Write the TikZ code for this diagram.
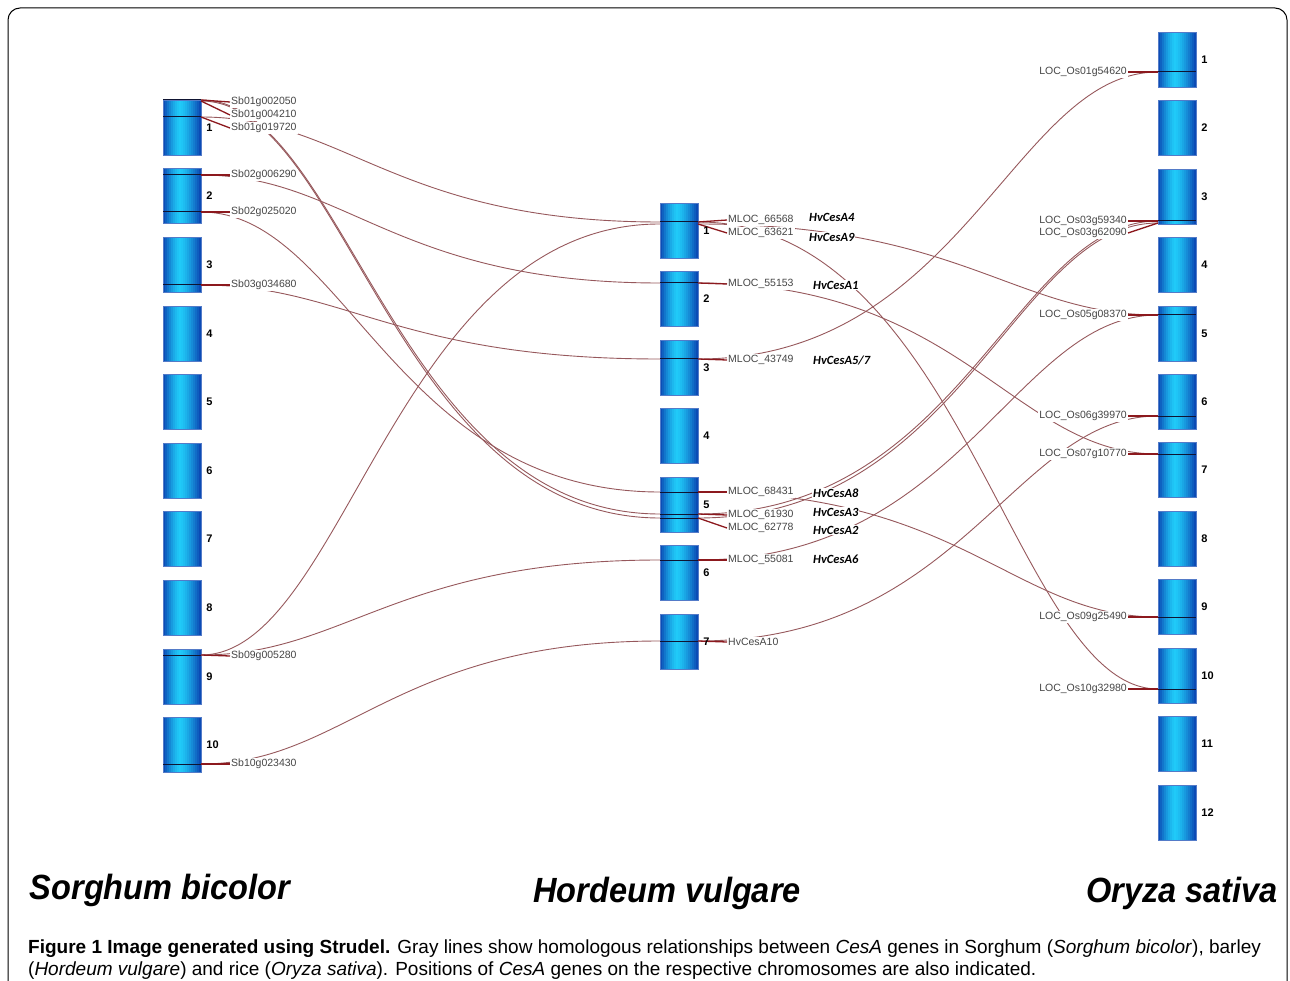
\documentclass[tikz,border=0pt]{standalone}
\usepackage{fontspec}
\setmainfont{Liberation Sans}
\newfontfamily\calibri{Carlito}
\newfontfamily\speciesfont[FakeStretch=0.93]{Liberation Sans}
\usetikzlibrary{positioning}

\definecolor{homcolor}{RGB}{150,88,92}
\definecolor{tickcolor}{RGB}{140,25,30}
\definecolor{chromdark}{RGB}{10,66,176}
\definecolor{chromlight}{RGB}{32,202,248}
\definecolor{bandcolor}{RGB}{15,20,50}
\definecolor{labelgray}{RGB}{70,70,70}

\tikzset{
    chrom/.style={rectangle, draw=chromdark!70!white, line width=0.5pt, inner sep=0pt,
        minimum width=38pt, minimum height=55pt,
        path picture={
            \foreach \k in {0,...,18} {
                \pgfmathsetmacro{\s}{(\k+0.5)/19}
                \pgfmathsetmacro{\pct}{100*(abs(\s-0.45)/(\s<0.45 ? 0.45 : 0.55))^1.4}
                \fill[chromdark!\pct!chromlight] ([xshift=\k*2pt]path picture bounding box.north west)
                    rectangle ([xshift=\k*2pt+2.2pt]path picture bounding box.south west);
            }
        }},
    chromnum/.style={anchor=west, inner sep=0pt, font=\bfseries\fontsize{11}{13}\selectfont},
    homline/.style={draw=homcolor, line width=0.9pt},
    genetick/.style={draw=tickcolor, line width=1.3pt},
    band/.style={draw=bandcolor, line width=1pt},
    genelabel/.style={inner sep=1pt, fill=white, text=labelgray, font=\fontsize{10.5}{12}\selectfont},
    hvname/.style={anchor=west, inner sep=1pt, fill=white, font=\calibri\bfseries\itshape\fontsize{12.5}{14}\selectfont},
    species/.style={font=\speciesfont\bfseries\itshape\fontsize{35}{40}\selectfont}
}

\begin{document}
\begin{tikzpicture}[x=1pt, y=-1pt]
    \useasboundingbox (0,0) rectangle (1290,981);

    % frame
    \draw[line width=1pt, rounded corners=12pt] (8,1010) -- (8,8) -- (1287,8) -- (1287,1010);

    % --- gene positions ---
    % Sorghum (right edge of chromosomes)
    \coordinate (sb1a) at (201,100);
    \coordinate (sb1b) at (201,101);
    \coordinate (sb1c) at (201,117);
    \coordinate (sb2a) at (201,175);
    \coordinate (sb2b) at (201,212);
    \coordinate (sb3) at (201,285);
    \coordinate (sb9) at (201,655);
    \coordinate (sb10) at (201,764);
    % barley (west and east edge)
    \foreach \n/\y in {A4/222, A9/224, A1/283, A57/359, A8/492, A3/514, A2/518, A6/560, A10/641} {
        \coordinate (hvw\n) at (660,\y);
        \coordinate (hve\n) at (698,\y);
    }
    % rice (left edge)
    \coordinate (os01) at (1158,72);
    \coordinate (os03a) at (1158,221);
    \coordinate (os03b) at (1158,223);
    \coordinate (os05) at (1158,315);
    \coordinate (os06) at (1158,416);
    \coordinate (os07) at (1158,454);
    \coordinate (os09) at (1158,617);
    \coordinate (os10) at (1158,689);

    % --- homology lines ---
    \foreach \a/\b in {sb1a/hvwA3, sb1b/hvwA2, sb1c/hvwA4, sb2a/hvwA1, sb2b/hvwA8,
                       sb3/hvwA57, sb9/hvwA9, sb9/hvwA6, sb10/hvwA10} {
        \draw[homline] (\a) .. controls +(144,0) and +(-265,0) .. (\b);
    }
    \foreach \a/\b in {hveA4/os10, hveA9/os05, hveA1/os07, hveA57/os01, hveA3/os03a,
                       hveA2/os03b, hveA8/os09, hveA6/os05, hveA10/os06} {
        \draw[homline] (\a) .. controls +(265,0) and +(-144,0) .. (\b);
    }

    % --- Sorghum bicolor ---
    \foreach \i in {1,...,10} {
        \pgfmathsetmacro{\ctr}{127.5+68.6*(\i-1)}
        \node[chrom] (sbc\i) at (182,\ctr) {};
        \node[chromnum] at ([xshift=5pt]sbc\i.east) {\i};
    }
    \foreach \g in {sb1a, sb1c, sb2a, sb2b, sb3, sb9, sb10} {
        \draw[band] (\g) -- ++(-38,0);
    }
    \foreach \g/\y/\t in {sb1a/102/Sb01g002050, sb1b/115/Sb01g004210, sb1c/128/Sb01g019720,
                          sb2a/175/Sb02g006290, sb2b/212/Sb02g025020, sb3/285/Sb03g034680,
                          sb9/656/Sb09g005280, sb10/764/Sb10g023430} {
        \node[genelabel, anchor=west] (\g L) at (230,\y) {\t};
        \draw[genetick] (\g) -- (\g L.west);
    }

    % --- Hordeum vulgare ---
    \foreach \i in {1,...,7} {
        \pgfmathsetmacro{\ctr}{230.5+68.5*(\i-1)}
        \node[chrom] (hvc\i) at (679,\ctr) {};
    }
    \foreach \g in {A4, A1, A57, A8, A3, A2, A6, A10} {
        \draw[band] (hvw\g) -- (hve\g);
    }
    \foreach \g/\y/\t in {A4/220/MLOC\_66568, A9/233/MLOC\_63621, A1/284/MLOC\_55153,
                          A57/360/MLOC\_43749, A8/492/MLOC\_68431, A3/515/MLOC\_61930,
                          A2/528/MLOC\_62778, A6/560/MLOC\_55081, A10/642/HvCesA10} {
        \node[genelabel, anchor=west] (hv\g L) at (727,\y) {\t};
        \draw[genetick] (hve\g) -- (hv\g L.west);
    }
    \foreach \i in {1,...,7} {
        \node[chromnum] at ([xshift=5pt]hvc\i.east) {\i};
    }
    \foreach \x/\y/\t in {808/217/HvCesA4, 808/237/HvCesA9, 812/285/HvCesA1, 812/360/HvCesA5\slash 7,
                          812/493/HvCesA8, 812/512/HvCesA3, 812/530/HvCesA2, 812/559/HvCesA6} {
        \node[hvname] at (\x,\y) {\t};
    }

    % --- Oryza sativa ---
    \foreach \i in {1,...,12} {
        \pgfmathsetmacro{\ctr}{59.5+68.45*(\i-1)}
        \node[chrom] (osc\i) at (1177,\ctr) {};
        \node[chromnum] at ([xshift=5pt]osc\i.east) {\i};
    }
    \foreach \g in {os01, os03a, os05, os06, os07, os09, os10} {
        \draw[band] (\g) -- ++(38,0);
    }
    \foreach \g/\y/\t in {os01/72/LOC\_Os01g54620, os03a/221/LOC\_Os03g59340, os03b/233/LOC\_Os03g62090,
                          os05/315/LOC\_Os05g08370, os06/416/LOC\_Os06g39970, os07/454/LOC\_Os07g10770,
                          os09/617/LOC\_Os09g25490, os10/689/LOC\_Os10g32980} {
        \node[genelabel, anchor=east] (\g L) at (1128,\y) {\t};
        \draw[genetick] (\g L.east) -- (\g);
    }

    % species names
    \node[species] (sbname) at (160,890) {Sorghum bicolor};
    \node[species] (hvname) at (667,893) {Hordeum vulgare};
    \node[species] (osname) at (1182,893) {Oryza sativa};

    % caption
    \node[anchor=north west, inner sep=0pt, align=left, font=\fontsize{19}{22}\selectfont]
        (caption) at (28,940)
        {\textbf{Figure 1 Image generated using Strudel.} Gray lines show homologous relationships between \textit{CesA} genes in Sorghum (\textit{Sorghum bicolor}), barley\\
         (\textit{Hordeum vulgare}) and rice (\textit{Oryza sativa}). Positions of \textit{CesA} genes on the respective chromosomes are also indicated.};
\end{tikzpicture}
\end{document}
